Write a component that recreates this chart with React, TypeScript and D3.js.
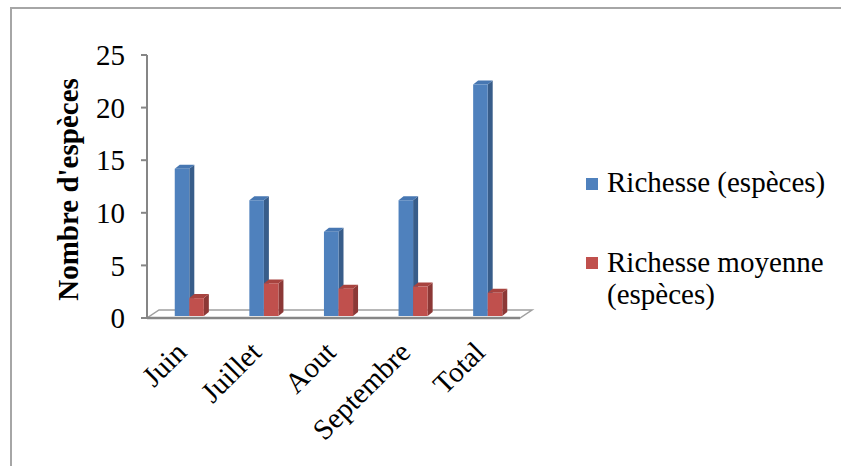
import React from 'react';
import * as d3 from 'd3';

const categories = ['Juin', 'Juillet', 'Aout', 'Septembre', 'Total'];
const richesse = [14, 11, 8, 11, 22];
const richesseMoyenne = [1.7, 3.1, 2.6, 2.8, 2.2];
const yTicks = [0, 5, 10, 15, 20, 25];
const seriesNames = ['Richesse (espèces)', 'Richesse moyenne (espèces)'];

const font = "'Liberation Serif', 'Times New Roman', Times, serif";

const colors = [
  { front: '#4F81BD', side: '#385D8A', top: '#4777B2' },
  { front: '#C0504D', side: '#8C3836', top: '#A8433F' },
];

const App = () => {
  const width = 841;
  const height = 466;
  const x0 = 147, x1 = 520, yTop = 55, yBase = 318;
  const floorDx = 12, floorDy = -8;
  const barShiftX = 5, barShiftY = -2;
  const depthX = 5, depthY = -4;

  const y = d3.scaleLinear().domain([0, 25]).range([yBase, yTop]);
  const xBand = d3.scaleBand<string>()
    .domain(categories)
    .range([x0, x1])
    .paddingInner(0.61)
    .paddingOuter(0.305);
  const xInner = d3.scaleBand<number>()
    .domain([0, 1])
    .range([0, xBand.bandwidth()]);

  const series = [richesse, richesseMoyenne];

  // front + side + top faces to fake the 3D column look
  const bar3d = (x: number, w: number, top: number, bottom: number, c: typeof colors[0], key: string) => {
    const front = `M${x},${top}H${x + w}V${bottom}H${x}Z`;
    const side = `M${x + w},${top}L${x + w + depthX},${top + depthY}V${bottom + depthY}L${x + w},${bottom}Z`;
    const topFace = `M${x},${top}L${x + depthX},${top + depthY}H${x + w + depthX}L${x + w},${top}Z`;
    return (
      <g key={key}>
        <path d={side} fill={c.side} />
        <path d={topFace} fill={c.top} />
        <path d={front} fill={c.front} />
      </g>
    );
  };

  const floor = `M${x0},${yBase}H${x1}L${x1 + floorDx},${yBase + floorDy}H${x0 + floorDx}Z`;
  const txt = { fontFamily: font };

  return (
    <svg width={width} height={height} style={{ position: 'absolute', left: 0, top: 0, background: '#fff', fontFamily: font }}>
      <rect x={11} y={8} width={900} height={500} fill="#fff" stroke="#A6A6A6" strokeWidth={2} />

      {/* floor */}
      <path d={floor} fill="#fff" stroke="#A0A0A0" strokeWidth={1.5} />
      <line x1={x0} x2={x1} y1={yBase} y2={yBase} stroke="#868686" strokeWidth={2.5} />

      {/* y axis */}
      <line x1={x0} x2={x0} y1={yTop} y2={yBase} stroke="#868686" strokeWidth={2} />
      {yTicks.map(t => (
        <g key={t}>
          <line x1={x0 - 6} x2={x0} y1={y(t)} y2={y(t)} stroke="#868686" strokeWidth={2} />
          <text x={125} y={y(t)} dy="0.35em" textAnchor="end" fontSize={29} fill="#000" style={txt}>{t}</text>
        </g>
      ))}
      <text transform={`translate(78,${(yTop + yBase) / 2 + 3}) rotate(-90)`} textAnchor="middle"
        fontSize={29} fontWeight="bold" fill="#000" style={txt}>Nombre d'espèces</text>

      {/* bars */}
      {categories.map((cat, i) => (
        <g key={cat}>
          {series.map((s, j) => {
            const bx = (xBand(cat) as number) + (xInner(j) as number) + barShiftX;
            return bar3d(bx, xInner.bandwidth(), y(s[i]) + barShiftY, yBase + barShiftY, colors[j], `${cat}-${j}`);
          })}
        </g>
      ))}

      {/* x labels */}
      {categories.map(cat => {
        const cx = (xBand(cat) as number) + xBand.bandwidth() / 2;
        return (
          <text key={cat} transform={`translate(${cx + 4},354) rotate(-45)`} textAnchor="end"
            fontSize={29} fill="#000" style={txt}>{cat}</text>
        );
      })}

      {/* legend */}
      <rect x={586} y={178} width={12} height={12} fill={colors[0].front} />
      <text x={607} y={192} fontSize={29} fill="#000" style={txt}>{seriesNames[0]}</text>
      <rect x={586} y={257} width={12} height={12} fill={colors[1].front} />
      <text x={607} y={272} fontSize={29} fill="#000" style={txt}>
        <tspan x={607}>Richesse moyenne</tspan>
        <tspan x={607} dy={32}>(espèces)</tspan>
      </text>
    </svg>
  );
};

export default App;
